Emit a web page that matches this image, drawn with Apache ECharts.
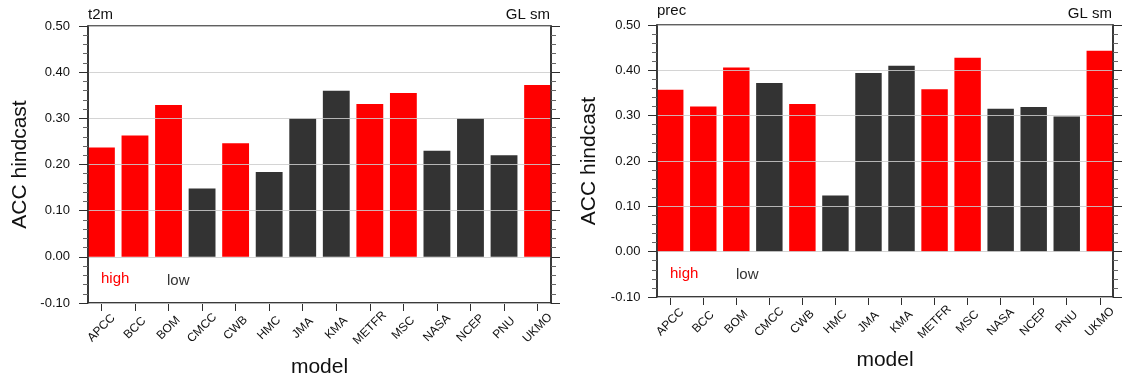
<!DOCTYPE html>
<html>
<head>
<meta charset="utf-8">
<script src="https://cdn.jsdelivr.net/npm/echarts@6/dist/echarts.min.js"></script>
<style>
  html, body { margin: 0; padding: 0; background: #fff; }
  #chart { width: 1122px; height: 384px; }
</style>
</head>
<body>
<div id="chart"></div>
<script>
// ---- data ----
const categories = ['APCC','BCC','BOM','CMCC','CWB','HMC','JMA','KMA','METFR','MSC','NASA','NCEP','PNU','UKMO'];
const t2mValues  = [0.237,0.263,0.329,0.148,0.246,0.184,0.300,0.360,0.331,0.355,0.230,0.300,0.220,0.372];
const precValues = [0.357,0.320,0.406,0.372,0.326,0.124,0.394,0.410,0.358,0.428,0.315,0.319,0.298,0.443];
const groups     = ['high','high','high','low','high','low','low','low','high','high','low','low','low','high'];
const groupNames = ['high','low'];
const yTickLabels = ['-0.10','0.00','0.10','0.20','0.30','0.40','0.50'];
const panelTitles = [['t2m','GL sm'],['prec','GL sm']];
const axisTitles = ['model','ACC hindcast'];

// ---- style ----
const FONT = 'Liberation Sans, Arial, Helvetica, sans-serif';
const groupColor = { high: '#ff0000', low: '#333333' };
const frameColor = '#2e2e2e';

const yMin = parseFloat(yTickLabels[0]);
const yMax = parseFloat(yTickLabels[yTickLabels.length - 1]);
const yStep = 0.1;
const idx = categories.map((_, i) => i);
const xMin = -0.4, xMax = categories.length - 1 + 0.4;

const panels = [
  { rect: { left: 88, top: 26, width: 463, height: 277 }, values: t2mValues,
    yLabelMargin: 18, yNameGap: 57, xNameGap: 54,
    texts: { titleY: 14.5, rightTitleY: 14.5, highX: 101, highY: 278.5, lowX: 167, lowY: 281 } },
  { rect: { left: 657, top: 25, width: 456, height: 272 }, values: precValues,
    yLabelMargin: 16.5, yNameGap: 57, xNameGap: 53,
    texts: { titleY: 10.5, rightTitleY: 13.5, highX: 670, highY: 273.5, lowX: 736, lowY: 275 } }
];

const option = {
  animation: false,
  backgroundColor: '#ffffff',
  textStyle: { fontFamily: FONT },
  grid: [], xAxis: [], yAxis: [], series: [], graphic: []
};

panels.forEach((p, k) => {
  const r = p.rect;
  option.grid.push({
    left: r.left, top: r.top, width: r.width, height: r.height,
    show: true, borderColor: frameColor, borderWidth: 1.5, backgroundColor: 'transparent',
    containLabel: false, outerBoundsMode: 'none'
  });
  option.xAxis.push({
    type: 'value', gridIndex: k, min: xMin, max: xMax, position: 'bottom',
    axisLine: { show: true, onZero: false, lineStyle: { color: frameColor, width: 1.5 } },
    axisTick: { show: true, customValues: idx, length: 8, lineStyle: { color: frameColor, width: 1 } },
    axisLabel: {
      customValues: idx, formatter: (v) => categories[Math.round(v)],
      rotate: 45, align: 'center', verticalAlign: 'middle', margin: 25,
      fontSize: 12, color: '#111', fontFamily: FONT
    },
    splitLine: { show: false },
    name: axisTitles[0], nameLocation: 'middle', nameGap: p.xNameGap,
    nameTextStyle: { fontSize: 21, color: '#111', fontFamily: FONT }
  });
  option.yAxis.push({
    type: 'value', gridIndex: k, min: yMin, max: yMax, interval: yStep, position: 'left', z: 3,
    axisLine: { show: true, onZero: false, lineStyle: { color: frameColor, width: 1.5 } },
    axisTick: { show: true, length: 9, lineStyle: { color: frameColor, width: 1 } },
    minorTick: { show: true, splitNumber: 5, length: 5, lineStyle: { color: '#666', width: 1 } },
    axisLabel: { formatter: (v) => v.toFixed(2), margin: p.yLabelMargin, fontSize: 13, color: '#111', fontFamily: FONT },
    splitLine: { show: true, lineStyle: { color: 'rgba(205,205,205,0.85)', width: 1 } },
    name: axisTitles[1], nameLocation: 'middle', nameGap: p.yNameGap,
    nameTextStyle: { fontSize: 21, color: '#111', fontFamily: FONT }
  });
  option.yAxis.push({
    type: 'value', gridIndex: k, min: yMin, max: yMax, interval: yStep, position: 'right', z: 3,
    axisLine: { show: true, onZero: false, lineStyle: { color: frameColor, width: 1.5 } },
    axisTick: { show: true, length: 9, lineStyle: { color: frameColor, width: 1 } },
    minorTick: { show: true, splitNumber: 5, length: 5, lineStyle: { color: '#666', width: 1 } },
    axisLabel: { show: false },
    splitLine: { show: false }
  });
  const barW = r.width / (xMax - xMin) * 0.8;
  option.series.push({
    type: 'bar', xAxisIndex: k, yAxisIndex: k * 2, barWidth: barW,
    data: p.values.map((v, i) => ({ value: [i, v], itemStyle: { color: groupColor[groups[i]] } }))
  });
  const t = p.texts;
  option.graphic.push(
    { type: 'text', x: r.left, y: t.titleY,
      style: { text: panelTitles[k][0], font: '15px ' + FONT, fill: '#111', align: 'left', verticalAlign: 'middle' } },
    { type: 'text', x: r.left + r.width - 1, y: t.rightTitleY,
      style: { text: panelTitles[k][1], font: '15px ' + FONT, fill: '#111', align: 'right', verticalAlign: 'middle' } },
    { type: 'text', x: t.highX, y: t.highY,
      style: { text: groupNames[0], font: '15px ' + FONT, fill: groupColor.high, align: 'left', verticalAlign: 'middle' } },
    { type: 'text', x: t.lowX, y: t.lowY,
      style: { text: groupNames[1], font: '15px ' + FONT, fill: groupColor.low, align: 'left', verticalAlign: 'middle' } }
  );
});

const chart = echarts.init(document.getElementById('chart'), null, { renderer: 'canvas' });
chart.setOption(option);
</script>
</body>
</html>
